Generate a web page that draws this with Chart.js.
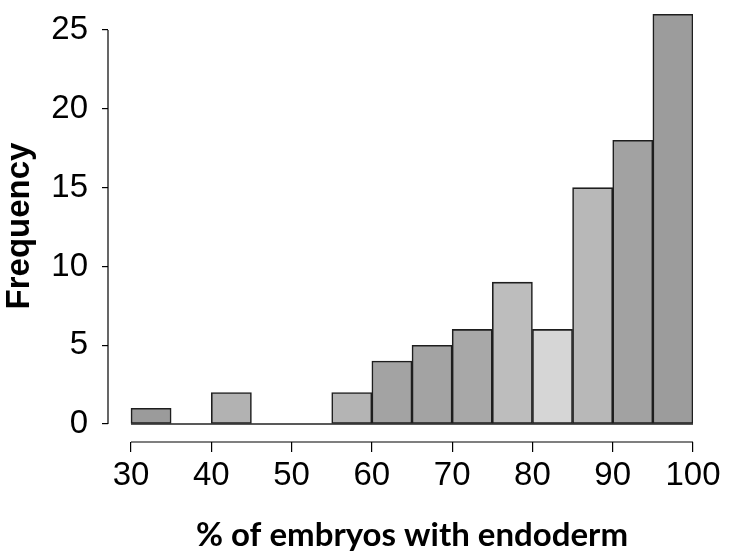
<!DOCTYPE html>
<html>
<head>
<meta charset="utf-8">
<script src="https://cdn.jsdelivr.net/npm/chart.js@4/dist/chart.umd.min.js"></script>
<style>
  html, body { margin: 0; padding: 0; background: #ffffff; }
  #wrap { width: 731px; height: 556px; }
</style>
</head>
<body>
<div id="wrap"><canvas id="c" width="731" height="556"></canvas></div>
<script>
// Histogram bins (lower edges, width 5) and frequencies
const binStarts = [30, 35, 40, 45, 50, 55, 60, 65, 70, 75, 80, 85, 90, 95];
const binWidth = 5;
const frequencies = [1, 0, 2, 0, 0, 2, 4, 5, 6, 9, 6, 15, 18, 26];
const barColors = ['#9b9b9b', '#9b9b9b', '#b2b2b2', '#b2b2b2', '#b2b2b2', '#b4b4b4', '#a3a3a3',
                   '#a3a3a3', '#a8a8a8', '#bdbdbd', '#d6d6d6', '#b8b8b8', '#a2a2a2', '#9c9c9c'];
const xTicks = [30, 40, 50, 60, 70, 80, 90, 100];
const yTicks = [0, 5, 10, 15, 20, 25];
const xTitle = '% of embryos with endoderm';
const yTitle = 'Frequency';

const points = binStarts.map((s, i) => ({ x: s + binWidth / 2, y: frequencies[i] }));

const rAxes = {
  id: 'rAxes',
  beforeDatasetsDraw(chart) {
    const { ctx, scales: { x, y } } = chart;
    ctx.save();
    ctx.strokeStyle = '#222';
    ctx.lineWidth = 1.5;
    // zero baseline across all bins (R draws empty bins as flat rectangles)
    ctx.beginPath();
    ctx.moveTo(x.getPixelForValue(binStarts[0]), y.getPixelForValue(0));
    ctx.lineTo(x.getPixelForValue(binStarts[binStarts.length - 1] + binWidth), y.getPixelForValue(0));
    ctx.stroke();
    ctx.restore();
  },
  afterDraw(chart) {
    const { ctx, scales: { x, y }, chartArea } = chart;
    ctx.save();
    ctx.strokeStyle = '#000';
    ctx.lineWidth = 1.2;
    // y axis line from first to last tick
    ctx.beginPath();
    ctx.moveTo(chartArea.left, y.getPixelForValue(yTicks[0]));
    ctx.lineTo(chartArea.left, y.getPixelForValue(yTicks[yTicks.length - 1]));
    ctx.stroke();
    // x axis line from first to last tick
    ctx.beginPath();
    ctx.moveTo(x.getPixelForValue(xTicks[0]), chartArea.bottom);
    ctx.lineTo(x.getPixelForValue(xTicks[xTicks.length - 1]), chartArea.bottom);
    ctx.stroke();
    // x title centred on the axis span
    ctx.fillStyle = '#000';
    ctx.font = 'bold 33px Lato, "Open Sans", sans-serif';
    ctx.textAlign = 'center';
    ctx.textBaseline = 'alphabetic';
    const mid = (x.getPixelForValue(xTicks[0]) + x.getPixelForValue(xTicks[xTicks.length - 1])) / 2;
    ctx.fillText(xTitle, mid, 546);
    ctx.restore();
  }
};

new Chart(document.getElementById('c'), {
  type: 'bar',
  data: {
    datasets: [{
      data: points,
      backgroundColor: barColors,
      borderColor: '#1e1e1e',
      borderWidth: 1.6,
      borderSkipped: false,
      categoryPercentage: 1.0,
      barPercentage: 1.0,
      grouped: false
    }]
  },
  options: {
    responsive: false,
    animation: false,
    events: [],
    layout: { padding: { top: 10, right: 38, left: 0, bottom: 0 } },
    plugins: { legend: { display: false }, tooltip: { enabled: false } },
    scales: {
      x: {
        type: 'linear',
        min: 27.135,
        max: 100,
        offset: false,
        afterBuildTicks(scale) { scale.ticks = xTicks.map(v => ({ value: v })); },
        afterFit(scale) { scale.height = 114; },
        border: { display: false },
        grid: { display: true, offset: false, drawOnChartArea: false, drawTicks: true, tickLength: 10, color: '#000', lineWidth: 1.2 },
        ticks: {
          color: '#000',
          font: { family: '"Liberation Sans", Arial, sans-serif', size: 33 },
          padding: 4,
          maxRotation: 0,
          autoSkip: false
        }
      },
      y: {
        type: 'linear',
        min: -1.142,
        max: 26.27,
        afterBuildTicks(scale) { scale.ticks = yTicks.map(v => ({ value: v })); },
        afterFit(scale) { scale.width = 108; scale.paddingTop = 0; scale.paddingBottom = 0; },
        border: { display: false },
        grid: { display: true, drawOnChartArea: false, drawTicks: true, tickLength: 6, color: '#000', lineWidth: 1.2 },
        ticks: {
          color: '#000',
          font: { family: '"Liberation Sans", Arial, sans-serif', size: 33 },
          padding: 14
        },
        title: {
          display: true,
          text: yTitle,
          color: '#000',
          font: { family: '"Liberation Sans", Arial, sans-serif', size: 33, weight: 'bold' },
          padding: { top: 0, bottom: 0 }
        }
      }
    }
  },
  plugins: [rAxes]
});
</script>
</body>
</html>
